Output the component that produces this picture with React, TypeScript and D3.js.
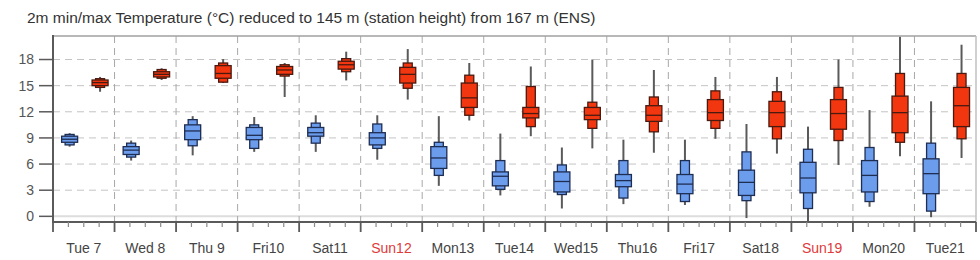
import React from "react";
import * as d3 from "d3";

const title = "2m min/max Temperature (\u00B0C) reduced to 145 m (station height) from 167 m (ENS)";

const days = ["Tue 7", "Wed 8", "Thu 9", "Fri10", "Sat11", "Sun12", "Mon13", "Tue14", "Wed15", "Thu16", "Fri17", "Sat18", "Sun19", "Mon20", "Tue21"];
const weekendDays = ["Sun12", "Sun19"];

const yTicks = [0, 3, 6, 9, 12, 15, 18];

// [min, p10, p25, median, p75, p90, max]
const minTempStats: number[][] = [
  [8.0, 8.2, 8.5, 8.85, 9.2, 9.4, 9.55],
  [6.4, 6.8, 7.1, 7.6, 8.0, 8.4, 8.7],
  [7.0, 8.1, 8.8, 9.8, 10.5, 11.1, 11.5],
  [7.4, 7.8, 8.8, 9.3, 10.2, 10.5, 11.4],
  [7.4, 8.4, 9.2, 9.6, 10.2, 10.7, 11.6],
  [6.5, 7.8, 8.2, 9.0, 9.6, 10.6, 11.6],
  [3.5, 4.7, 5.5, 6.7, 8.0, 8.5, 11.5],
  [2.4, 3.1, 3.5, 4.6, 5.1, 6.4, 9.5],
  [0.9, 2.5, 2.8, 4.0, 5.1, 5.9, 7.9],
  [1.4, 2.1, 3.4, 4.1, 4.8, 6.4, 8.8],
  [1.3, 1.7, 2.6, 3.7, 4.8, 6.4, 8.8],
  [-0.2, 1.8, 2.4, 3.9, 5.3, 7.4, 10.6],
  [-0.7, 0.9, 2.7, 4.4, 6.2, 7.7, 10.3],
  [1.1, 1.7, 2.8, 4.7, 6.4, 7.9, 12.2],
  [-0.1, 0.6, 2.6, 4.9, 6.6, 8.4, 13.2],
];

const maxTempStats: number[][] = [
  [14.3, 14.8, 15.0, 15.35, 15.65, 15.8, 16.0],
  [15.65, 15.85, 16.0, 16.3, 16.6, 16.85, 17.0],
  [15.3, 15.4, 15.85, 16.4, 17.3, 17.6, 18.05],
  [13.7, 16.1, 16.3, 16.8, 17.2, 17.4, 17.6],
  [15.6, 16.6, 16.9, 17.4, 17.8, 18.1, 18.9],
  [13.4, 14.7, 15.3, 16.3, 17.1, 17.6, 19.2],
  [11.0, 11.6, 12.5, 13.6, 15.3, 16.2, 17.6],
  [9.2, 10.3, 11.3, 11.8, 12.5, 14.9, 17.2],
  [7.8, 10.1, 11.1, 11.6, 12.5, 13.1, 18.0],
  [7.3, 9.7, 10.9, 11.6, 12.7, 13.7, 16.8],
  [8.9, 10.1, 11.0, 11.9, 13.4, 14.4, 16.0],
  [7.2, 8.9, 10.3, 11.9, 13.2, 14.3, 16.0],
  [5.9, 8.7, 10.0, 11.8, 13.4, 14.8, 18.0],
  [6.9, 8.5, 9.6, 11.9, 13.8, 16.4, 20.6],
  [6.7, 8.9, 10.3, 12.7, 14.8, 16.4, 19.7],
];

const FONT = "'Liberation Sans', Arial, Helvetica, sans-serif";

const left = 53;
const right = 976;
const top = 36;
const bottom = 222;

export default function App() {
  const x = d3.scaleLinear().domain([0, days.length]).range([left, right]);
  const y = d3.scaleLinear().domain([-0.65, 20.7]).range([bottom, top]);

  const narrowW = 9;
  const wideW = 16;

  const boxes = (stats: number[][], offset: number, fill: string, stroke: string, key: string) =>
    stats.map((s, i) => {
      const cx = x(i + offset);
      const [mn, p10, p25, med, p75, p90, mx] = s;
      return (
        <g key={key + i}>
          <line x1={cx} x2={cx} y1={y(mn)} y2={y(mx)} stroke="#5a5a5a" strokeWidth={2} />
          <rect x={cx - narrowW / 2} width={narrowW} y={y(p90)} height={y(p10) - y(p90)} fill={fill} stroke={stroke} strokeWidth={1.3} />
          <rect x={cx - wideW / 2} width={wideW} y={y(p75)} height={y(p25) - y(p75)} fill={fill} stroke={stroke} strokeWidth={1.3} />
          <line x1={cx - wideW / 2} x2={cx + wideW / 2} y1={y(med)} y2={y(med)} stroke={stroke} strokeWidth={1.3} />
        </g>
      );
    });

  const minorTicks: number[] = [];
  for (let i = 0; i < days.length; i++) {
    for (let k = 1; k < 4; k++) minorTicks.push(i + k / 4);
  }
  const majorTicks = d3.range(0, days.length + 1);

  return (
    <svg width={980} height={260} style={{ position: "absolute", left: 0, top: 0, background: "#fff" }} fontFamily={FONT}>
      <rect x={0} y={0} width={980} height={260} fill="#fff" />
      <text x={27} y={23} fontSize={15.5} fill="#333">{title}</text>

      {/* horizontal grid */}
      {yTicks.map((t) => (
        <line key={"gy" + t} x1={left} x2={right} y1={y(t)} y2={y(t)}
          stroke={t === 0 ? "#dddddd" : "#c4c4c4"} strokeWidth={t === 0 ? 2 : 1}
          strokeDasharray={t === 0 ? undefined : "7,5"} />
      ))}
      {/* day separators */}
      {majorTicks.slice(1, -1).map((d) => (
        <line key={"gx" + d} x1={x(d)} x2={x(d)} y1={top} y2={bottom}
          stroke="#a8a8a8" strokeWidth={1} strokeDasharray="7,5" />
      ))}

      {/* frame */}
      <line x1={left} x2={right} y1={top} y2={top} stroke="#a0a0a0" strokeWidth={1.5} />
      <line x1={right} x2={right} y1={top} y2={bottom} stroke="#c0c0c0" strokeWidth={1.5} />

      {boxes(minTempStats, 0.27, "#6c9ded", "#1e2d52", "mn")}
      {boxes(maxTempStats, 0.765, "#f2360f", "#4a1a10", "mx")}

      {/* y axis */}
      <line x1={left} x2={left} y1={top - 1} y2={bottom + 1} stroke="#5a5a5a" strokeWidth={2} />
      {yTicks.map((t) => (
        <g key={"yt" + t}>
          <line x1={39} x2={left} y1={y(t)} y2={y(t)} stroke="#5a5a5a" strokeWidth={1.5} />
          <text x={34} y={y(t)} dy="0.35em" textAnchor="end" fontSize={14} fill="#555">{t}</text>
        </g>
      ))}

      {/* x axis */}
      <line x1={left} x2={right} y1={bottom} y2={bottom} stroke="#5a5a5a" strokeWidth={2} />
      {majorTicks.map((d) => (
        <line key={"xt" + d} x1={x(d)} x2={x(d)} y1={bottom} y2={232} stroke="#5a5a5a" strokeWidth={1.8} />
      ))}
      {minorTicks.map((d) => (
        <line key={"xm" + d} x1={x(d)} x2={x(d)} y1={bottom} y2={227} stroke="#8a8a8a" strokeWidth={1.2} />
      ))}
      {days.map((d, i) => (
        <text key={"xl" + d} x={x(i + 0.5)} y={253} textAnchor="middle" fontSize={14}
          fill={weekendDays.includes(d) ? "#e03a3a" : "#444"}>{d}</text>
      ))}
    </svg>
  );
}
